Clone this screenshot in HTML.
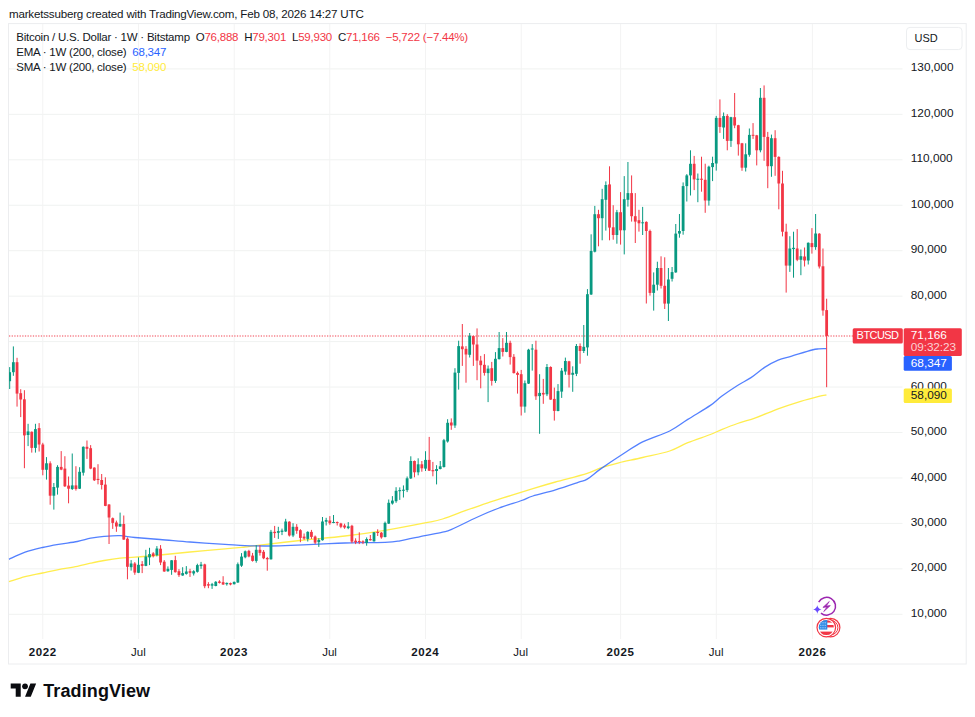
<!DOCTYPE html>
<html><head><meta charset="utf-8">
<style>
html,body{margin:0;padding:0;background:#fff;}
body{width:975px;height:717px;position:relative;overflow:hidden;font-family:"Liberation Sans",sans-serif;color:#131722;}
.t{position:absolute;white-space:nowrap;line-height:1;}
#hdr{left:9px;top:8px;font-size:11.6px;letter-spacing:-0.2px;}
#box{position:absolute;left:8px;top:23px;width:958px;height:641.5px;border:1px solid #e8e9ec;box-sizing:border-box;}
svg{position:absolute;left:0;top:0;}
.lg{font-size:11.5px;left:16.2px;letter-spacing:-0.23px;}
.ax{font-size:11.8px;left:910.8px;}
.tm{font-size:11.5px;transform:translateX(-50%);top:646.6px;}
.b{font-weight:bold;letter-spacing:0.6px;}
.r{color:#f23645}
#usd{position:absolute;left:906px;top:27px;width:56.5px;height:23px;border:1px solid #e6e8ee;border-radius:4px;box-sizing:border-box;background:#fff;}
.tag{position:absolute;border-radius:2px;}
.w{color:#fff}
</style></head><body>
<div id="hdr" class="t">marketssuberg created with TradingView.com, Feb 08, 2026 14:27 UTC</div>
<svg width="975" height="717" viewBox="0 0 975 717">
<rect x="8.5" y="23.6" width="957.7" height="640.4" fill="none" stroke="#ecedef" stroke-width="1"/>
<rect x="906.5" y="27.4" width="55.5" height="22.2" rx="3.5" fill="#fff" stroke="#eceef0" stroke-width="1"/>
<rect x="9" y="68.40" width="893.5" height="1" fill="#f0f2f1"/>
<rect x="9" y="113.85" width="893.5" height="1" fill="#f0f2f1"/>
<rect x="9" y="159.30" width="893.5" height="1" fill="#f0f2f1"/>
<rect x="9" y="204.75" width="893.5" height="1" fill="#f0f2f1"/>
<rect x="9" y="250.20" width="893.5" height="1" fill="#f0f2f1"/>
<rect x="9" y="295.65" width="893.5" height="1" fill="#f0f2f1"/>
<rect x="9" y="341.10" width="893.5" height="1" fill="#f0f2f1"/>
<rect x="9" y="386.55" width="893.5" height="1" fill="#f0f2f1"/>
<rect x="9" y="432.00" width="893.5" height="1" fill="#f0f2f1"/>
<rect x="9" y="477.45" width="893.5" height="1" fill="#f0f2f1"/>
<rect x="9" y="522.90" width="893.5" height="1" fill="#f0f2f1"/>
<rect x="9" y="568.35" width="893.5" height="1" fill="#f0f2f1"/>
<rect x="9" y="613.80" width="893.5" height="1" fill="#f0f2f1"/>
<rect x="42.30" y="24" width="1" height="615" fill="#f3f3f3"/>
<rect x="138.00" y="24" width="1" height="615" fill="#f3f3f3"/>
<rect x="233.70" y="24" width="1" height="615" fill="#f3f3f3"/>
<rect x="329.30" y="24" width="1" height="615" fill="#f3f3f3"/>
<rect x="425.00" y="24" width="1" height="615" fill="#f3f3f3"/>
<rect x="520.70" y="24" width="1" height="615" fill="#f3f3f3"/>
<rect x="620.10" y="24" width="1" height="615" fill="#f3f3f3"/>
<rect x="715.80" y="24" width="1" height="615" fill="#f3f3f3"/>
<rect x="811.90" y="24" width="1" height="615" fill="#f3f3f3"/>
<path d="M9.0,581.7 C11.7,580.9 19.5,578.2 25.1,576.7 C30.7,575.2 36.9,574.2 42.5,573.0 C48.1,571.8 52.7,570.7 58.5,569.6 C64.3,568.5 71.9,567.4 77.3,566.3 C82.7,565.2 86.2,564.2 90.7,563.2 C95.2,562.2 99.2,561.3 104.1,560.5 C109.0,559.7 114.9,558.8 120.1,558.2 C125.2,557.7 128.3,557.7 135.0,557.2 C141.7,556.7 150.8,555.9 160.0,555.0 C169.2,554.1 179.2,553.0 190.0,552.0 C200.8,551.0 215.8,549.7 225.0,548.9 C234.2,548.1 239.9,547.5 245.0,547.0 C250.1,546.5 246.6,546.7 255.8,545.6 C265.0,544.5 285.1,542.1 300.0,540.5 C314.9,538.9 330.8,537.7 345.0,536.0 C359.2,534.3 371.7,532.5 385.0,530.3 C398.3,528.1 415.4,524.8 425.0,522.9 C434.6,521.0 435.9,521.0 442.6,519.0 C449.3,517.0 457.7,513.4 465.2,510.7 C472.7,508.0 480.3,505.3 487.8,502.8 C495.3,500.3 502.9,498.0 510.4,495.6 C517.9,493.2 525.4,490.9 532.9,488.6 C540.4,486.3 546.5,484.5 555.5,482.0 C564.5,479.5 579.7,475.8 587.2,473.4 C594.7,471.0 595.4,469.6 600.7,467.8 C606.0,466.0 611.8,464.5 618.8,462.8 C625.8,461.1 634.1,459.5 642.6,457.5 C651.1,455.5 662.2,453.5 669.7,451.0 C677.2,448.5 681.0,445.4 687.8,442.7 C694.6,439.9 704.8,436.7 710.4,434.5 C716.0,432.3 717.1,431.4 721.6,429.6 C726.1,427.8 731.9,425.5 737.5,423.5 C743.1,421.5 748.7,420.2 755.5,417.8 C762.3,415.4 770.6,411.6 778.1,408.8 C785.6,406.1 793.9,403.4 800.7,401.3 C807.5,399.2 814.5,397.4 818.8,396.3 C823.1,395.2 825.1,395.2 826.4,395.0" fill="none" stroke="#ffeb3b" stroke-width="1.3" stroke-linejoin="round" opacity="0.9"/>
<path d="M9.0,559.3 C11.7,558.1 19.5,554.2 25.1,552.2 C30.7,550.2 36.9,548.8 42.5,547.5 C48.1,546.2 52.7,545.4 58.5,544.4 C64.3,543.4 71.9,542.5 77.3,541.5 C82.7,540.5 86.2,539.1 90.7,538.2 C95.2,537.4 99.2,536.8 104.1,536.4 C109.0,536.0 114.9,535.5 120.1,535.7 C125.2,535.9 128.3,536.9 135.0,537.5 C141.7,538.1 150.8,538.8 160.0,539.5 C169.2,540.2 179.2,541.2 190.0,542.0 C200.8,542.8 215.8,543.7 225.0,544.3 C234.2,544.9 238.3,545.3 245.0,545.6 C251.7,545.9 258.3,546.0 265.0,546.0 C271.7,546.0 276.1,545.9 285.0,545.6 C293.9,545.3 308.7,544.6 318.7,544.2 C328.7,543.8 333.9,543.3 345.0,543.0 C356.1,542.7 375.8,542.7 385.0,542.3 C394.2,541.9 393.3,541.9 400.0,540.8 C406.7,539.7 417.9,537.0 425.0,535.6 C432.1,534.2 438.2,533.1 442.6,532.1 C447.0,531.1 446.0,531.8 451.6,529.4 C457.2,527.0 468.6,521.1 476.5,517.5 C484.4,513.9 491.6,510.8 499.1,508.0 C506.6,505.2 516.0,502.5 521.6,500.5 C527.2,498.5 527.2,497.8 532.9,496.0 C538.5,494.2 548.0,492.2 555.5,489.9 C563.0,487.6 572.8,484.2 578.1,482.4 C583.4,480.6 583.4,481.4 587.2,479.1 C591.0,476.9 594.7,473.1 600.7,468.9 C606.7,464.7 616.3,458.3 623.3,453.8 C630.3,449.3 634.9,445.6 642.6,441.8 C650.3,438.0 662.2,434.7 669.7,431.0 C677.2,427.3 681.0,423.7 687.8,419.4 C694.6,415.1 704.8,409.2 710.4,405.4 C716.0,401.5 717.1,399.6 721.6,396.3 C726.1,393.0 732.6,388.6 737.5,385.5 C742.4,382.4 746.5,380.6 751.0,377.6 C755.5,374.6 760.1,370.3 764.6,367.4 C769.1,364.5 773.6,362.1 778.1,360.2 C782.6,358.3 786.1,357.8 791.7,356.1 C797.4,354.4 807.5,351.2 812.0,350.0 C816.5,348.8 816.4,349.1 818.8,348.9 C821.2,348.7 825.1,348.7 826.4,348.6" fill="none" stroke="#2962ff" stroke-width="1.3" stroke-linejoin="round" opacity="0.8"/>
<line x1="9" y1="336" x2="853" y2="336" stroke="#f23645" stroke-width="1.6" stroke-dasharray="1.25 1.4" opacity="0.62"/>
<rect x="9.18" y="367.1" width="1" height="21.9" fill="#089981"/>
<rect x="9.00" y="372.2" width="2.08" height="9.0" fill="#089981"/>
<rect x="12.86" y="346.4" width="1" height="29.4" fill="#089981"/>
<rect x="11.96" y="362.2" width="2.80" height="10.0" fill="#089981"/>
<rect x="16.54" y="357.8" width="1" height="48.8" fill="#f23645"/>
<rect x="15.64" y="362.2" width="2.80" height="31.4" fill="#f23645"/>
<rect x="20.22" y="389.2" width="1" height="27.9" fill="#f23645"/>
<rect x="19.32" y="393.2" width="2.80" height="6.3" fill="#f23645"/>
<rect x="23.90" y="390.2" width="1" height="78.0" fill="#f23645"/>
<rect x="23.00" y="399.3" width="2.80" height="36.1" fill="#f23645"/>
<rect x="27.58" y="423.8" width="1" height="22.3" fill="#089981"/>
<rect x="26.68" y="431.4" width="2.80" height="3.6" fill="#089981"/>
<rect x="31.26" y="431.4" width="1" height="21.2" fill="#f23645"/>
<rect x="30.36" y="431.8" width="2.80" height="16.1" fill="#f23645"/>
<rect x="34.94" y="423.8" width="1" height="28.8" fill="#089981"/>
<rect x="34.04" y="429.1" width="2.80" height="18.8" fill="#089981"/>
<rect x="38.62" y="423.1" width="1" height="28.4" fill="#f23645"/>
<rect x="37.72" y="428.1" width="2.80" height="16.4" fill="#f23645"/>
<rect x="42.30" y="442.8" width="1" height="32.5" fill="#f23645"/>
<rect x="41.40" y="444.5" width="2.80" height="25.3" fill="#f23645"/>
<rect x="45.98" y="457.1" width="1" height="22.5" fill="#089981"/>
<rect x="45.08" y="463.3" width="2.80" height="6.5" fill="#089981"/>
<rect x="49.66" y="461.3" width="1" height="43.4" fill="#f23645"/>
<rect x="48.76" y="463.3" width="2.80" height="32.4" fill="#f23645"/>
<rect x="53.34" y="483.0" width="1" height="26.6" fill="#089981"/>
<rect x="52.44" y="487.0" width="2.80" height="8.7" fill="#089981"/>
<rect x="57.02" y="465.2" width="1" height="29.4" fill="#089981"/>
<rect x="56.12" y="466.9" width="2.80" height="20.7" fill="#089981"/>
<rect x="60.70" y="451.1" width="1" height="19.1" fill="#f23645"/>
<rect x="59.80" y="466.9" width="2.80" height="2.7" fill="#f23645"/>
<rect x="64.38" y="456.2" width="1" height="30.8" fill="#f23645"/>
<rect x="63.48" y="468.6" width="2.80" height="17.7" fill="#f23645"/>
<rect x="68.06" y="476.5" width="1" height="26.8" fill="#f23645"/>
<rect x="67.16" y="485.6" width="2.80" height="3.1" fill="#f23645"/>
<rect x="71.74" y="453.5" width="1" height="36.5" fill="#089981"/>
<rect x="70.84" y="485.4" width="2.80" height="3.6" fill="#089981"/>
<rect x="75.42" y="466.2" width="1" height="24.4" fill="#f23645"/>
<rect x="74.52" y="485.4" width="2.80" height="3.6" fill="#f23645"/>
<rect x="79.10" y="467.2" width="1" height="21.8" fill="#089981"/>
<rect x="78.20" y="471.8" width="2.80" height="16.9" fill="#089981"/>
<rect x="82.78" y="446.4" width="1" height="29.2" fill="#089981"/>
<rect x="81.88" y="446.8" width="2.80" height="25.9" fill="#089981"/>
<rect x="86.46" y="440.5" width="1" height="18.4" fill="#f23645"/>
<rect x="85.56" y="446.8" width="2.80" height="2.0" fill="#f23645"/>
<rect x="90.14" y="445.1" width="1" height="24.1" fill="#f23645"/>
<rect x="89.24" y="448.2" width="2.80" height="20.4" fill="#f23645"/>
<rect x="93.82" y="467.3" width="1" height="13.7" fill="#f23645"/>
<rect x="92.92" y="467.6" width="2.80" height="12.7" fill="#f23645"/>
<rect x="97.50" y="464.2" width="1" height="20.1" fill="#f23645"/>
<rect x="96.60" y="478.9" width="2.80" height="1.1" fill="#f23645"/>
<rect x="101.18" y="474.0" width="1" height="15.5" fill="#f23645"/>
<rect x="100.28" y="480.0" width="2.80" height="5.0" fill="#f23645"/>
<rect x="104.86" y="477.3" width="1" height="28.9" fill="#f23645"/>
<rect x="103.96" y="484.6" width="2.80" height="21.3" fill="#f23645"/>
<rect x="108.54" y="504.1" width="1" height="39.9" fill="#f23645"/>
<rect x="107.64" y="504.5" width="2.80" height="13.0" fill="#f23645"/>
<rect x="112.22" y="517.5" width="1" height="11.4" fill="#f23645"/>
<rect x="111.32" y="518.2" width="2.80" height="4.7" fill="#f23645"/>
<rect x="115.90" y="520.6" width="1" height="11.2" fill="#f23645"/>
<rect x="115.00" y="522.5" width="2.80" height="4.0" fill="#f23645"/>
<rect x="119.58" y="512.6" width="1" height="14.2" fill="#089981"/>
<rect x="118.68" y="524.0" width="2.80" height="2.5" fill="#089981"/>
<rect x="123.26" y="515.5" width="1" height="24.3" fill="#f23645"/>
<rect x="122.36" y="524.0" width="2.80" height="15.6" fill="#f23645"/>
<rect x="126.94" y="537.4" width="1" height="41.9" fill="#f23645"/>
<rect x="126.04" y="538.7" width="2.80" height="28.1" fill="#f23645"/>
<rect x="130.62" y="560.1" width="1" height="10.5" fill="#089981"/>
<rect x="129.72" y="563.5" width="2.80" height="3.7" fill="#089981"/>
<rect x="134.30" y="562.1" width="1" height="12.7" fill="#f23645"/>
<rect x="133.40" y="563.5" width="2.80" height="9.1" fill="#f23645"/>
<rect x="137.98" y="557.4" width="1" height="15.7" fill="#089981"/>
<rect x="137.08" y="564.8" width="2.80" height="8.0" fill="#089981"/>
<rect x="141.66" y="561.1" width="1" height="12.0" fill="#f23645"/>
<rect x="140.76" y="564.1" width="2.80" height="1.8" fill="#f23645"/>
<rect x="145.34" y="549.8" width="1" height="16.4" fill="#089981"/>
<rect x="144.44" y="556.5" width="2.80" height="9.4" fill="#089981"/>
<rect x="149.02" y="547.8" width="1" height="17.3" fill="#089981"/>
<rect x="148.12" y="554.1" width="2.80" height="3.3" fill="#089981"/>
<rect x="152.70" y="552.1" width="1" height="5.3" fill="#f23645"/>
<rect x="151.80" y="553.4" width="2.80" height="2.7" fill="#f23645"/>
<rect x="156.38" y="546.1" width="1" height="10.3" fill="#089981"/>
<rect x="155.48" y="548.5" width="2.80" height="6.7" fill="#089981"/>
<rect x="160.06" y="545.1" width="1" height="20.0" fill="#f23645"/>
<rect x="159.16" y="548.7" width="2.80" height="13.8" fill="#f23645"/>
<rect x="163.74" y="560.1" width="1" height="11.7" fill="#f23645"/>
<rect x="162.84" y="561.7" width="2.80" height="9.8" fill="#f23645"/>
<rect x="167.42" y="566.4" width="1" height="5.4" fill="#089981"/>
<rect x="166.52" y="568.8" width="2.80" height="2.4" fill="#089981"/>
<rect x="171.10" y="560.1" width="1" height="14.7" fill="#089981"/>
<rect x="170.20" y="560.3" width="2.80" height="9.6" fill="#089981"/>
<rect x="174.78" y="555.8" width="1" height="16.8" fill="#f23645"/>
<rect x="173.88" y="560.1" width="2.80" height="12.1" fill="#f23645"/>
<rect x="178.46" y="569.1" width="1" height="7.8" fill="#f23645"/>
<rect x="177.56" y="571.2" width="2.80" height="3.9" fill="#f23645"/>
<rect x="182.14" y="567.2" width="1" height="8.6" fill="#089981"/>
<rect x="181.24" y="573.1" width="2.80" height="2.4" fill="#089981"/>
<rect x="185.82" y="566.1" width="1" height="8.5" fill="#089981"/>
<rect x="184.92" y="571.5" width="2.80" height="2.4" fill="#089981"/>
<rect x="189.50" y="568.8" width="1" height="8.1" fill="#f23645"/>
<rect x="188.60" y="571.2" width="2.80" height="1.6" fill="#f23645"/>
<rect x="193.18" y="570.2" width="1" height="5.3" fill="#089981"/>
<rect x="192.28" y="571.2" width="2.80" height="2.3" fill="#089981"/>
<rect x="196.86" y="563.7" width="1" height="8.9" fill="#089981"/>
<rect x="195.96" y="565.1" width="2.80" height="6.7" fill="#089981"/>
<rect x="200.54" y="561.9" width="1" height="6.9" fill="#089981"/>
<rect x="199.64" y="564.5" width="2.80" height="1.6" fill="#089981"/>
<rect x="204.22" y="563.7" width="1" height="24.5" fill="#f23645"/>
<rect x="203.32" y="564.4" width="2.80" height="21.8" fill="#f23645"/>
<rect x="207.90" y="582.2" width="1" height="6.0" fill="#f23645"/>
<rect x="207.00" y="584.2" width="2.80" height="1.4" fill="#f23645"/>
<rect x="211.58" y="582.9" width="1" height="6.0" fill="#089981"/>
<rect x="210.68" y="584.2" width="2.80" height="1.4" fill="#089981"/>
<rect x="215.26" y="581.1" width="1" height="5.2" fill="#089981"/>
<rect x="214.36" y="581.8" width="2.80" height="4.2" fill="#089981"/>
<rect x="218.94" y="580.2" width="1" height="3.3" fill="#f23645"/>
<rect x="218.04" y="581.5" width="2.80" height="1.4" fill="#f23645"/>
<rect x="222.62" y="576.2" width="1" height="8.7" fill="#f23645"/>
<rect x="221.72" y="582.2" width="2.80" height="2.3" fill="#f23645"/>
<rect x="226.30" y="582.5" width="1" height="3.1" fill="#089981"/>
<rect x="225.40" y="582.9" width="2.80" height="1.3" fill="#089981"/>
<rect x="229.98" y="582.6" width="1" height="2.7" fill="#f23645"/>
<rect x="229.08" y="583.1" width="2.80" height="1.4" fill="#f23645"/>
<rect x="233.66" y="581.5" width="1" height="3.0" fill="#089981"/>
<rect x="232.76" y="581.9" width="2.80" height="2.3" fill="#089981"/>
<rect x="237.34" y="562.5" width="1" height="20.4" fill="#089981"/>
<rect x="236.44" y="564.2" width="2.80" height="18.3" fill="#089981"/>
<rect x="241.02" y="553.1" width="1" height="13.8" fill="#089981"/>
<rect x="240.12" y="556.6" width="2.80" height="9.1" fill="#089981"/>
<rect x="244.70" y="550.5" width="1" height="7.8" fill="#089981"/>
<rect x="243.80" y="551.3" width="2.80" height="6.0" fill="#089981"/>
<rect x="248.38" y="549.8" width="1" height="7.5" fill="#f23645"/>
<rect x="247.48" y="550.9" width="2.80" height="5.6" fill="#f23645"/>
<rect x="252.06" y="552.9" width="1" height="8.7" fill="#f23645"/>
<rect x="251.16" y="555.6" width="2.80" height="5.3" fill="#f23645"/>
<rect x="255.74" y="545.2" width="1" height="17.5" fill="#089981"/>
<rect x="254.84" y="549.8" width="2.80" height="11.1" fill="#089981"/>
<rect x="259.42" y="545.2" width="1" height="10.4" fill="#f23645"/>
<rect x="258.52" y="549.8" width="2.80" height="3.1" fill="#f23645"/>
<rect x="263.10" y="550.0" width="1" height="9.2" fill="#f23645"/>
<rect x="262.20" y="551.8" width="2.80" height="6.5" fill="#f23645"/>
<rect x="266.78" y="556.9" width="1" height="13.8" fill="#f23645"/>
<rect x="265.88" y="558.0" width="2.80" height="1.3" fill="#f23645"/>
<rect x="270.46" y="529.9" width="1" height="29.7" fill="#089981"/>
<rect x="269.56" y="531.8" width="2.80" height="27.5" fill="#089981"/>
<rect x="274.14" y="525.9" width="1" height="12.0" fill="#f23645"/>
<rect x="273.24" y="531.8" width="2.80" height="1.3" fill="#f23645"/>
<rect x="277.82" y="526.8" width="1" height="12.1" fill="#089981"/>
<rect x="276.92" y="531.1" width="2.80" height="1.7" fill="#089981"/>
<rect x="281.50" y="528.6" width="1" height="6.5" fill="#089981"/>
<rect x="280.60" y="530.6" width="2.80" height="1.3" fill="#089981"/>
<rect x="285.18" y="518.8" width="1" height="13.1" fill="#089981"/>
<rect x="284.28" y="521.5" width="2.80" height="10.0" fill="#089981"/>
<rect x="288.86" y="521.2" width="1" height="15.3" fill="#f23645"/>
<rect x="287.96" y="521.7" width="2.80" height="13.8" fill="#f23645"/>
<rect x="292.54" y="523.2" width="1" height="13.9" fill="#089981"/>
<rect x="291.64" y="526.8" width="2.80" height="8.7" fill="#089981"/>
<rect x="296.22" y="524.1" width="1" height="9.7" fill="#f23645"/>
<rect x="295.32" y="526.8" width="2.80" height="4.0" fill="#f23645"/>
<rect x="299.90" y="529.2" width="1" height="13.0" fill="#f23645"/>
<rect x="299.00" y="530.2" width="2.80" height="7.7" fill="#f23645"/>
<rect x="303.58" y="533.5" width="1" height="6.4" fill="#f23645"/>
<rect x="302.68" y="536.6" width="2.80" height="1.9" fill="#f23645"/>
<rect x="307.26" y="531.2" width="1" height="10.3" fill="#089981"/>
<rect x="306.36" y="531.9" width="2.80" height="7.0" fill="#089981"/>
<rect x="310.94" y="529.9" width="1" height="9.0" fill="#f23645"/>
<rect x="310.04" y="531.9" width="2.80" height="5.0" fill="#f23645"/>
<rect x="314.62" y="535.5" width="1" height="8.7" fill="#f23645"/>
<rect x="313.72" y="536.5" width="2.80" height="6.1" fill="#f23645"/>
<rect x="318.30" y="538.2" width="1" height="8.7" fill="#089981"/>
<rect x="317.40" y="539.9" width="2.80" height="2.3" fill="#089981"/>
<rect x="321.98" y="517.0" width="1" height="23.6" fill="#089981"/>
<rect x="321.08" y="521.5" width="2.80" height="18.7" fill="#089981"/>
<rect x="325.66" y="517.8" width="1" height="7.7" fill="#089981"/>
<rect x="324.76" y="520.1" width="2.80" height="1.6" fill="#089981"/>
<rect x="329.34" y="516.1" width="1" height="8.7" fill="#f23645"/>
<rect x="328.44" y="520.5" width="2.80" height="2.7" fill="#f23645"/>
<rect x="333.02" y="515.0" width="1" height="8.2" fill="#089981"/>
<rect x="332.12" y="522.0" width="2.80" height="1.0" fill="#089981"/>
<rect x="336.70" y="521.5" width="1" height="4.0" fill="#f23645"/>
<rect x="335.80" y="522.0" width="2.80" height="1.0" fill="#f23645"/>
<rect x="340.38" y="522.8" width="1" height="5.4" fill="#f23645"/>
<rect x="339.48" y="523.5" width="2.80" height="3.3" fill="#f23645"/>
<rect x="344.06" y="523.7" width="1" height="5.1" fill="#f23645"/>
<rect x="343.16" y="525.5" width="2.80" height="2.0" fill="#f23645"/>
<rect x="347.74" y="522.1" width="1" height="7.1" fill="#089981"/>
<rect x="346.84" y="526.4" width="2.80" height="1.7" fill="#089981"/>
<rect x="351.42" y="524.8" width="1" height="18.4" fill="#f23645"/>
<rect x="350.52" y="525.8" width="2.80" height="15.8" fill="#f23645"/>
<rect x="355.10" y="538.3" width="1" height="5.8" fill="#f23645"/>
<rect x="354.20" y="540.7" width="2.80" height="1.6" fill="#f23645"/>
<rect x="358.78" y="532.3" width="1" height="11.8" fill="#f23645"/>
<rect x="357.88" y="541.0" width="2.80" height="1.0" fill="#f23645"/>
<rect x="362.46" y="540.3" width="1" height="3.8" fill="#f23645"/>
<rect x="361.56" y="541.3" width="2.80" height="1.0" fill="#f23645"/>
<rect x="366.14" y="537.4" width="1" height="8.3" fill="#089981"/>
<rect x="365.24" y="539.0" width="2.80" height="4.0" fill="#089981"/>
<rect x="369.82" y="535.0" width="1" height="5.6" fill="#f23645"/>
<rect x="368.92" y="539.0" width="2.80" height="1.3" fill="#f23645"/>
<rect x="373.50" y="532.0" width="1" height="9.7" fill="#089981"/>
<rect x="372.60" y="532.3" width="2.80" height="9.0" fill="#089981"/>
<rect x="377.18" y="529.3" width="1" height="6.7" fill="#f23645"/>
<rect x="376.28" y="532.0" width="2.80" height="1.0" fill="#f23645"/>
<rect x="380.86" y="532.0" width="1" height="6.7" fill="#f23645"/>
<rect x="379.96" y="532.7" width="2.80" height="4.7" fill="#f23645"/>
<rect x="384.54" y="521.6" width="1" height="15.8" fill="#089981"/>
<rect x="383.64" y="522.9" width="2.80" height="14.1" fill="#089981"/>
<rect x="388.22" y="499.5" width="1" height="24.5" fill="#089981"/>
<rect x="387.32" y="502.8" width="2.80" height="20.8" fill="#089981"/>
<rect x="391.90" y="496.1" width="1" height="8.5" fill="#089981"/>
<rect x="391.00" y="500.6" width="2.80" height="2.9" fill="#089981"/>
<rect x="395.58" y="487.2" width="1" height="15.6" fill="#089981"/>
<rect x="394.68" y="490.8" width="2.80" height="10.4" fill="#089981"/>
<rect x="399.26" y="487.4" width="1" height="12.5" fill="#089981"/>
<rect x="398.36" y="490.1" width="2.80" height="1.1" fill="#089981"/>
<rect x="402.94" y="485.4" width="1" height="12.1" fill="#089981"/>
<rect x="402.04" y="489.7" width="2.80" height="1.1" fill="#089981"/>
<rect x="406.62" y="476.5" width="1" height="15.6" fill="#089981"/>
<rect x="405.72" y="478.3" width="2.80" height="11.8" fill="#089981"/>
<rect x="410.30" y="456.3" width="1" height="22.7" fill="#089981"/>
<rect x="409.40" y="461.0" width="2.80" height="17.4" fill="#089981"/>
<rect x="413.98" y="460.5" width="1" height="16.8" fill="#f23645"/>
<rect x="413.08" y="461.0" width="2.80" height="11.3" fill="#f23645"/>
<rect x="417.66" y="458.3" width="1" height="17.0" fill="#089981"/>
<rect x="416.76" y="464.3" width="2.80" height="8.0" fill="#089981"/>
<rect x="421.34" y="461.0" width="1" height="10.7" fill="#f23645"/>
<rect x="420.44" y="464.3" width="2.80" height="4.0" fill="#f23645"/>
<rect x="425.02" y="451.2" width="1" height="19.8" fill="#089981"/>
<rect x="424.12" y="459.9" width="2.80" height="8.7" fill="#089981"/>
<rect x="428.70" y="436.9" width="1" height="34.1" fill="#f23645"/>
<rect x="427.80" y="459.9" width="2.80" height="10.8" fill="#f23645"/>
<rect x="432.38" y="461.9" width="1" height="14.4" fill="#f23645"/>
<rect x="431.48" y="470.1" width="2.80" height="1.2" fill="#f23645"/>
<rect x="436.06" y="465.2" width="1" height="19.2" fill="#089981"/>
<rect x="435.16" y="469.0" width="2.80" height="2.0" fill="#089981"/>
<rect x="439.74" y="461.0" width="1" height="8.4" fill="#089981"/>
<rect x="438.84" y="466.3" width="2.80" height="2.7" fill="#089981"/>
<rect x="443.42" y="438.9" width="1" height="28.7" fill="#089981"/>
<rect x="442.52" y="440.2" width="2.80" height="26.8" fill="#089981"/>
<rect x="447.10" y="419.2" width="1" height="23.4" fill="#089981"/>
<rect x="446.20" y="422.8" width="2.80" height="18.7" fill="#089981"/>
<rect x="450.78" y="418.4" width="1" height="11.4" fill="#f23645"/>
<rect x="449.88" y="422.5" width="2.80" height="3.0" fill="#f23645"/>
<rect x="454.46" y="368.2" width="1" height="59.7" fill="#089981"/>
<rect x="453.56" y="372.6" width="2.80" height="52.9" fill="#089981"/>
<rect x="458.14" y="340.7" width="1" height="48.9" fill="#089981"/>
<rect x="457.24" y="346.1" width="2.80" height="26.8" fill="#089981"/>
<rect x="461.82" y="324.0" width="1" height="41.9" fill="#f23645"/>
<rect x="460.92" y="346.4" width="2.80" height="2.8" fill="#f23645"/>
<rect x="465.50" y="346.1" width="1" height="36.6" fill="#f23645"/>
<rect x="464.60" y="348.8" width="2.80" height="5.7" fill="#f23645"/>
<rect x="469.18" y="333.0" width="1" height="24.5" fill="#089981"/>
<rect x="468.28" y="335.8" width="2.80" height="19.0" fill="#089981"/>
<rect x="472.86" y="335.7" width="1" height="30.2" fill="#f23645"/>
<rect x="471.96" y="336.1" width="2.80" height="8.4" fill="#f23645"/>
<rect x="476.54" y="328.4" width="1" height="51.8" fill="#f23645"/>
<rect x="475.64" y="344.5" width="2.80" height="16.1" fill="#f23645"/>
<rect x="480.22" y="355.9" width="1" height="32.4" fill="#f23645"/>
<rect x="479.32" y="360.6" width="2.80" height="4.6" fill="#f23645"/>
<rect x="483.90" y="354.1" width="1" height="21.5" fill="#f23645"/>
<rect x="483.00" y="364.8" width="2.80" height="8.1" fill="#f23645"/>
<rect x="487.58" y="365.5" width="1" height="36.6" fill="#089981"/>
<rect x="486.68" y="368.6" width="2.80" height="4.5" fill="#089981"/>
<rect x="491.26" y="361.9" width="1" height="23.7" fill="#f23645"/>
<rect x="490.36" y="368.2" width="2.80" height="12.7" fill="#f23645"/>
<rect x="494.94" y="352.1" width="1" height="30.8" fill="#089981"/>
<rect x="494.04" y="358.8" width="2.80" height="22.1" fill="#089981"/>
<rect x="498.62" y="332.0" width="1" height="27.5" fill="#089981"/>
<rect x="497.72" y="348.1" width="2.80" height="11.0" fill="#089981"/>
<rect x="502.30" y="338.1" width="1" height="18.4" fill="#f23645"/>
<rect x="501.40" y="348.1" width="2.80" height="3.8" fill="#f23645"/>
<rect x="505.98" y="332.0" width="1" height="20.2" fill="#089981"/>
<rect x="505.08" y="342.8" width="2.80" height="9.1" fill="#089981"/>
<rect x="509.66" y="340.7" width="1" height="23.9" fill="#f23645"/>
<rect x="508.76" y="342.8" width="2.80" height="14.3" fill="#f23645"/>
<rect x="513.34" y="354.1" width="1" height="19.4" fill="#f23645"/>
<rect x="512.44" y="356.8" width="2.80" height="16.3" fill="#f23645"/>
<rect x="517.02" y="371.5" width="1" height="22.1" fill="#f23645"/>
<rect x="516.12" y="372.9" width="2.80" height="2.0" fill="#f23645"/>
<rect x="520.70" y="369.9" width="1" height="45.6" fill="#f23645"/>
<rect x="519.80" y="374.2" width="2.80" height="32.4" fill="#f23645"/>
<rect x="524.38" y="380.5" width="1" height="32.2" fill="#089981"/>
<rect x="523.48" y="383.2" width="2.80" height="23.4" fill="#089981"/>
<rect x="528.06" y="348.8" width="1" height="35.2" fill="#089981"/>
<rect x="527.16" y="349.7" width="2.80" height="33.9" fill="#089981"/>
<rect x="531.74" y="344.1" width="1" height="26.5" fill="#089981"/>
<rect x="530.84" y="348.5" width="2.80" height="1.0" fill="#089981"/>
<rect x="535.42" y="340.7" width="1" height="59.2" fill="#f23645"/>
<rect x="534.52" y="349.7" width="2.80" height="46.6" fill="#f23645"/>
<rect x="539.10" y="374.2" width="1" height="59.6" fill="#089981"/>
<rect x="538.20" y="392.9" width="2.80" height="3.2" fill="#089981"/>
<rect x="542.78" y="378.9" width="1" height="24.9" fill="#f23645"/>
<rect x="541.88" y="392.9" width="2.80" height="1.6" fill="#f23645"/>
<rect x="546.46" y="364.0" width="1" height="32.1" fill="#089981"/>
<rect x="545.56" y="367.0" width="2.80" height="27.3" fill="#089981"/>
<rect x="550.14" y="366.3" width="1" height="33.6" fill="#f23645"/>
<rect x="549.24" y="367.0" width="2.80" height="32.6" fill="#f23645"/>
<rect x="553.82" y="387.6" width="1" height="33.0" fill="#f23645"/>
<rect x="552.92" y="398.9" width="2.80" height="12.0" fill="#f23645"/>
<rect x="557.50" y="384.1" width="1" height="27.2" fill="#089981"/>
<rect x="556.60" y="391.1" width="2.80" height="19.9" fill="#089981"/>
<rect x="561.18" y="368.0" width="1" height="29.9" fill="#089981"/>
<rect x="560.28" y="370.7" width="2.80" height="20.9" fill="#089981"/>
<rect x="564.86" y="357.6" width="1" height="17.2" fill="#089981"/>
<rect x="563.96" y="361.0" width="2.80" height="10.5" fill="#089981"/>
<rect x="568.54" y="360.8" width="1" height="26.7" fill="#f23645"/>
<rect x="567.64" y="361.3" width="2.80" height="13.5" fill="#f23645"/>
<rect x="572.22" y="366.3" width="1" height="25.5" fill="#089981"/>
<rect x="571.32" y="372.8" width="2.80" height="2.0" fill="#089981"/>
<rect x="575.90" y="344.0" width="1" height="32.1" fill="#089981"/>
<rect x="575.00" y="346.0" width="2.80" height="27.8" fill="#089981"/>
<rect x="579.58" y="343.4" width="1" height="20.3" fill="#f23645"/>
<rect x="578.68" y="346.0" width="2.80" height="5.0" fill="#f23645"/>
<rect x="583.26" y="325.0" width="1" height="28.0" fill="#089981"/>
<rect x="582.36" y="346.8" width="2.80" height="4.2" fill="#089981"/>
<rect x="586.94" y="289.1" width="1" height="66.6" fill="#089981"/>
<rect x="586.04" y="294.2" width="2.80" height="53.2" fill="#089981"/>
<rect x="590.62" y="234.3" width="1" height="60.7" fill="#089981"/>
<rect x="589.72" y="251.0" width="2.80" height="43.5" fill="#089981"/>
<rect x="594.30" y="205.9" width="1" height="46.5" fill="#089981"/>
<rect x="593.40" y="214.2" width="2.80" height="37.5" fill="#089981"/>
<rect x="597.98" y="209.8" width="1" height="36.5" fill="#f23645"/>
<rect x="597.08" y="214.2" width="2.80" height="4.0" fill="#f23645"/>
<rect x="601.66" y="188.8" width="1" height="51.5" fill="#089981"/>
<rect x="600.76" y="199.2" width="2.80" height="19.0" fill="#089981"/>
<rect x="605.34" y="181.4" width="1" height="49.2" fill="#089981"/>
<rect x="604.44" y="185.0" width="2.80" height="14.8" fill="#089981"/>
<rect x="609.02" y="166.3" width="1" height="74.0" fill="#f23645"/>
<rect x="608.12" y="184.4" width="2.80" height="43.2" fill="#f23645"/>
<rect x="612.70" y="205.2" width="1" height="34.5" fill="#f23645"/>
<rect x="611.80" y="227.3" width="2.80" height="7.7" fill="#f23645"/>
<rect x="616.38" y="209.9" width="1" height="33.8" fill="#089981"/>
<rect x="615.48" y="212.2" width="2.80" height="22.8" fill="#089981"/>
<rect x="620.06" y="192.1" width="1" height="52.5" fill="#f23645"/>
<rect x="619.16" y="212.2" width="2.80" height="18.1" fill="#f23645"/>
<rect x="623.74" y="176.1" width="1" height="78.3" fill="#089981"/>
<rect x="622.84" y="199.2" width="2.80" height="31.1" fill="#089981"/>
<rect x="627.42" y="162.0" width="1" height="44.6" fill="#089981"/>
<rect x="626.52" y="193.1" width="2.80" height="6.7" fill="#089981"/>
<rect x="631.10" y="175.4" width="1" height="46.2" fill="#f23645"/>
<rect x="630.20" y="193.1" width="2.80" height="23.1" fill="#f23645"/>
<rect x="634.78" y="193.1" width="1" height="49.9" fill="#f23645"/>
<rect x="633.88" y="216.2" width="2.80" height="5.4" fill="#f23645"/>
<rect x="638.46" y="209.8" width="1" height="21.8" fill="#f23645"/>
<rect x="637.56" y="220.2" width="2.80" height="3.1" fill="#f23645"/>
<rect x="642.14" y="206.9" width="1" height="28.1" fill="#089981"/>
<rect x="641.24" y="222.3" width="2.80" height="1.0" fill="#089981"/>
<rect x="645.82" y="221.3" width="1" height="82.2" fill="#f23645"/>
<rect x="644.92" y="221.9" width="2.80" height="9.1" fill="#f23645"/>
<rect x="649.50" y="229.6" width="1" height="66.0" fill="#f23645"/>
<rect x="648.60" y="231.0" width="2.80" height="61.9" fill="#f23645"/>
<rect x="653.18" y="272.4" width="1" height="38.2" fill="#089981"/>
<rect x="652.28" y="284.7" width="2.80" height="8.2" fill="#089981"/>
<rect x="656.86" y="261.7" width="1" height="28.8" fill="#089981"/>
<rect x="655.96" y="268.0" width="2.80" height="16.7" fill="#089981"/>
<rect x="660.54" y="256.3" width="1" height="32.2" fill="#f23645"/>
<rect x="659.64" y="268.0" width="2.80" height="17.8" fill="#f23645"/>
<rect x="664.22" y="257.3" width="1" height="51.7" fill="#f23645"/>
<rect x="663.32" y="285.8" width="2.80" height="17.8" fill="#f23645"/>
<rect x="667.90" y="268.0" width="1" height="53.0" fill="#089981"/>
<rect x="667.00" y="279.5" width="2.80" height="24.1" fill="#089981"/>
<rect x="671.58" y="267.0" width="1" height="14.5" fill="#089981"/>
<rect x="670.68" y="272.1" width="2.80" height="6.7" fill="#089981"/>
<rect x="675.26" y="224.0" width="1" height="48.8" fill="#089981"/>
<rect x="674.36" y="233.6" width="2.80" height="38.8" fill="#089981"/>
<rect x="678.94" y="214.0" width="1" height="23.7" fill="#089981"/>
<rect x="678.04" y="231.0" width="2.80" height="2.6" fill="#089981"/>
<rect x="682.62" y="182.4" width="1" height="52.3" fill="#089981"/>
<rect x="681.72" y="186.1" width="2.80" height="44.9" fill="#089981"/>
<rect x="686.30" y="174.1" width="1" height="27.4" fill="#089981"/>
<rect x="685.40" y="175.4" width="2.80" height="10.7" fill="#089981"/>
<rect x="689.98" y="150.3" width="1" height="45.2" fill="#089981"/>
<rect x="689.08" y="163.8" width="2.80" height="11.6" fill="#089981"/>
<rect x="693.66" y="155.9" width="1" height="34.2" fill="#f23645"/>
<rect x="692.76" y="163.8" width="2.80" height="15.6" fill="#f23645"/>
<rect x="697.34" y="173.5" width="1" height="28.7" fill="#089981"/>
<rect x="696.44" y="178.7" width="2.80" height="1.1" fill="#089981"/>
<rect x="701.02" y="156.7" width="1" height="35.0" fill="#f23645"/>
<rect x="700.12" y="178.7" width="2.80" height="1.1" fill="#f23645"/>
<rect x="704.70" y="163.7" width="1" height="49.1" fill="#f23645"/>
<rect x="703.80" y="179.8" width="2.80" height="20.7" fill="#f23645"/>
<rect x="708.38" y="165.7" width="1" height="39.9" fill="#089981"/>
<rect x="707.48" y="166.7" width="2.80" height="33.9" fill="#089981"/>
<rect x="712.06" y="156.7" width="1" height="24.4" fill="#089981"/>
<rect x="711.16" y="163.0" width="2.80" height="4.1" fill="#089981"/>
<rect x="715.74" y="115.9" width="1" height="54.7" fill="#089981"/>
<rect x="714.84" y="117.9" width="2.80" height="45.6" fill="#089981"/>
<rect x="719.42" y="99.4" width="1" height="33.5" fill="#f23645"/>
<rect x="718.52" y="117.9" width="2.80" height="9.0" fill="#f23645"/>
<rect x="723.10" y="112.5" width="1" height="26.4" fill="#089981"/>
<rect x="722.20" y="116.1" width="2.80" height="11.4" fill="#089981"/>
<rect x="726.78" y="114.1" width="1" height="36.2" fill="#f23645"/>
<rect x="725.88" y="115.9" width="2.80" height="25.0" fill="#f23645"/>
<rect x="730.46" y="116.8" width="1" height="30.1" fill="#089981"/>
<rect x="729.56" y="117.2" width="2.80" height="23.7" fill="#089981"/>
<rect x="734.14" y="93.0" width="1" height="35.2" fill="#f23645"/>
<rect x="733.24" y="117.2" width="2.80" height="8.3" fill="#f23645"/>
<rect x="737.82" y="124.8" width="1" height="30.8" fill="#f23645"/>
<rect x="736.92" y="125.2" width="2.80" height="19.1" fill="#f23645"/>
<rect x="741.50" y="142.9" width="1" height="27.9" fill="#f23645"/>
<rect x="740.60" y="143.3" width="2.80" height="24.4" fill="#f23645"/>
<rect x="745.18" y="143.3" width="1" height="28.2" fill="#089981"/>
<rect x="744.28" y="154.3" width="2.80" height="13.4" fill="#089981"/>
<rect x="748.86" y="128.5" width="1" height="28.2" fill="#089981"/>
<rect x="747.96" y="134.9" width="2.80" height="19.9" fill="#089981"/>
<rect x="752.54" y="123.1" width="1" height="15.8" fill="#f23645"/>
<rect x="751.64" y="134.8" width="2.80" height="1.0" fill="#f23645"/>
<rect x="756.22" y="134.9" width="1" height="30.5" fill="#f23645"/>
<rect x="755.32" y="135.3" width="2.80" height="15.0" fill="#f23645"/>
<rect x="759.90" y="88.0" width="1" height="64.3" fill="#089981"/>
<rect x="759.00" y="97.8" width="2.80" height="52.5" fill="#089981"/>
<rect x="763.58" y="85.4" width="1" height="75.4" fill="#f23645"/>
<rect x="762.68" y="97.8" width="2.80" height="39.1" fill="#f23645"/>
<rect x="767.26" y="131.9" width="1" height="56.3" fill="#f23645"/>
<rect x="766.36" y="136.9" width="2.80" height="29.3" fill="#f23645"/>
<rect x="770.94" y="134.6" width="1" height="42.2" fill="#089981"/>
<rect x="770.04" y="138.2" width="2.80" height="28.0" fill="#089981"/>
<rect x="774.62" y="130.2" width="1" height="45.6" fill="#f23645"/>
<rect x="773.72" y="138.2" width="2.80" height="18.7" fill="#f23645"/>
<rect x="778.30" y="156.3" width="1" height="53.0" fill="#f23645"/>
<rect x="777.40" y="156.9" width="2.80" height="26.6" fill="#f23645"/>
<rect x="781.98" y="170.8" width="1" height="65.6" fill="#f23645"/>
<rect x="781.08" y="183.5" width="2.80" height="48.2" fill="#f23645"/>
<rect x="785.66" y="223.7" width="1" height="68.9" fill="#f23645"/>
<rect x="784.76" y="231.7" width="2.80" height="33.9" fill="#f23645"/>
<rect x="789.34" y="236.2" width="1" height="35.7" fill="#089981"/>
<rect x="788.44" y="248.5" width="2.80" height="17.1" fill="#089981"/>
<rect x="793.02" y="231.7" width="1" height="46.0" fill="#089981"/>
<rect x="792.12" y="247.8" width="2.80" height="1.3" fill="#089981"/>
<rect x="796.70" y="229.1" width="1" height="32.1" fill="#f23645"/>
<rect x="795.80" y="248.5" width="2.80" height="11.3" fill="#f23645"/>
<rect x="800.38" y="249.5" width="1" height="25.7" fill="#089981"/>
<rect x="799.48" y="256.2" width="2.80" height="3.6" fill="#089981"/>
<rect x="804.06" y="247.5" width="1" height="19.0" fill="#f23645"/>
<rect x="803.16" y="256.5" width="2.80" height="4.0" fill="#f23645"/>
<rect x="807.74" y="242.4" width="1" height="22.1" fill="#089981"/>
<rect x="806.84" y="242.8" width="2.80" height="17.7" fill="#089981"/>
<rect x="811.42" y="228.1" width="1" height="25.5" fill="#f23645"/>
<rect x="810.52" y="243.1" width="2.80" height="4.0" fill="#f23645"/>
<rect x="815.10" y="214.0" width="1" height="35.8" fill="#089981"/>
<rect x="814.20" y="233.5" width="2.80" height="13.6" fill="#089981"/>
<rect x="818.78" y="233.1" width="1" height="35.4" fill="#f23645"/>
<rect x="817.88" y="233.7" width="2.80" height="32.8" fill="#f23645"/>
<rect x="822.46" y="248.5" width="1" height="67.2" fill="#f23645"/>
<rect x="821.56" y="266.3" width="2.80" height="44.2" fill="#f23645"/>
<rect x="826.14" y="298.7" width="1" height="88.5" fill="#f23645"/>
<rect x="825.24" y="310.1" width="2.80" height="25.8" fill="#f23645"/>
<g id="ico1">
<path d="M818.7 602.2 A8.9 8.9 0 1 1 821.0 613.1" fill="none" stroke="#9c27b0" stroke-width="1.5"/>
<path d="M829.3 601.5 L822.9 607.4 L827.0 606.9 L823.7 611.6 L830.3 605.6 L826.2 606.1 Z" fill="#9c27b0" stroke="#9c27b0" stroke-width="0.7" stroke-linejoin="round"/>
<path d="M817.3 605.3 Q817.9 608.9 821.5 609.5 Q817.9 610.1 817.3 613.7 Q816.7 610.1 813.1 609.5 Q816.7 608.9 817.3 605.3 Z" fill="#6a4cff"/>
</g>
<g id="ico2">
<circle cx="830.6" cy="627.6" r="9.3" fill="#fff" stroke="#f23645" stroke-width="1.2"/>
<circle cx="830.6" cy="627.6" r="7.3" fill="none" stroke="#f23645" stroke-width="1"/>
<circle cx="826.3" cy="627.6" r="9.3" fill="#fff" stroke="#f23645" stroke-width="1.2"/>
<clipPath id="fl"><circle cx="826.3" cy="627.6" r="7.5"/></clipPath>
<g clip-path="url(#fl)">
<rect x="818" y="619" width="17" height="18" fill="#fff"/>
<rect x="818" y="620.2" width="17" height="2.4" fill="#f23645"/>
<rect x="818" y="625.0" width="17" height="2.4" fill="#f23645"/>
<rect x="818" y="629.8" width="17" height="0" fill="#f23645"/>
<rect x="818" y="631.6" width="17" height="3.4" fill="#f23645"/>
<rect x="818" y="619" width="9.3" height="10.6" fill="#2f8be6"/>
<g fill="#cfe4fb"><rect x="820.3" y="622.3" width="1" height="1"/><rect x="822.5" y="622.3" width="1" height="1"/><rect x="824.7" y="622.3" width="1" height="1"/><rect x="820.3" y="624.8" width="1" height="1"/><rect x="822.5" y="624.8" width="1" height="1"/><rect x="824.7" y="624.8" width="1" height="1"/><rect x="820.3" y="627.3" width="1" height="1"/><rect x="822.5" y="627.3" width="1" height="1"/><rect x="824.7" y="627.3" width="1" height="1"/></g>
</g>
</g>
<g transform="translate(10.7,680.4) scale(0.7167,0.745)" fill="#0b0c10"><path d="M14 22H7V11H0V4h14v18zM28 22h-8l7.5-18h8L28 22z"/><circle cx="20" cy="8" r="4"/></g>
</svg>
<div class="t lg" id="l1" style="top:32px">Bitcoin / U.S. Dollar · 1W · Bitstamp&nbsp; O<span class="r">76,888</span>&nbsp; H<span class="r">79,301</span>&nbsp; L<span class="r">59,930</span>&nbsp; C<span class="r">71,166</span>&nbsp; <span class="r">−5,722 (−7.44%)</span></div>
<div class="t lg" id="l2" style="top:47px">EMA · 1W (200, close)&nbsp; <span style="color:#2962ff">68,347</span></div>
<div class="t lg" id="l3" style="top:62px">SMA · 1W (200, close)&nbsp; <span style="color:#ffeb3b">58,090</span></div>
<div class="t" id="usdt" style="left:914.5px;top:32.9px;font-size:11px;">USD</div>
<div class="t ax" style="top:62px">130,000</div>
<div class="t ax" style="top:108px">120,000</div>
<div class="t ax" style="top:153px">110,000</div>
<div class="t ax" style="top:199px">100,000</div>
<div class="t ax" style="top:244px">90,000</div>
<div class="t ax" style="top:290px">80,000</div>
<div class="t ax" style="top:381px">60,000</div>
<div class="t ax" style="top:426px">50,000</div>
<div class="t ax" style="top:472px">40,000</div>
<div class="t ax" style="top:517px">30,000</div>
<div class="t ax" style="top:562px">20,000</div>
<div class="t ax" style="top:608px">10,000</div>
<svg width="975" height="717" viewBox="0 0 975 717">
<rect x="852.7" y="328.3" width="50.1" height="15.1" rx="1.5" fill="#f23645"/>
<rect x="903.7" y="328.3" width="58.1" height="27.7" rx="1.5" fill="#f23645"/>
<rect x="903.7" y="355.9" width="48.2" height="14.9" rx="1.5" fill="#2962ff"/>
<rect x="903.7" y="388.4" width="48.2" height="14.7" rx="1.5" fill="#ffeb3b"/>
</svg>
<div class="t w" id="sym" style="left:856.6px;top:330.4px;font-size:11px;letter-spacing:-0.55px">BTCUSD</div>
<div class="t w" id="px" style="left:910.8px;top:329.6px;font-size:11.8px;">71,166</div>
<div class="t" id="cd" style="left:910.8px;top:342.1px;font-size:11.8px;color:#fbd0d4;letter-spacing:-0.1px">09:32:23</div>
<div class="t w" id="emav" style="left:910.8px;top:357.6px;font-size:11.8px;">68,347</div>
<div class="t" id="smav" style="left:910.8px;top:389.9px;font-size:11.8px;">58,090</div>
<div class="t tm b" style="left:42.8px">2022</div>
<div class="t tm" style="left:138.4px">Jul</div>
<div class="t tm b" style="left:234.0px">2023</div>
<div class="t tm" style="left:329.5px">Jul</div>
<div class="t tm b" style="left:425.2px">2024</div>
<div class="t tm" style="left:520.6px">Jul</div>
<div class="t tm b" style="left:620.6px">2025</div>
<div class="t tm" style="left:716.2px">Jul</div>
<div class="t tm b" style="left:812.4px">2026</div>
<div class="t" id="tv" style="left:43.2px;top:682px;font-size:18px;font-weight:bold;letter-spacing:0.12px;color:#0b0c10">TradingView</div>
</body></html>
